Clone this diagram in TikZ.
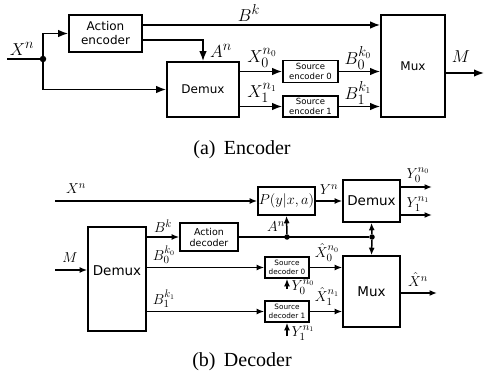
\documentclass[tikz,border=0pt]{standalone}
\usepackage{fontspec}
\setsansfont{DejaVu Sans}
\newfontfamily\capfont{Liberation Serif}
\usetikzlibrary{arrows.meta}
\begin{document}
\begin{tikzpicture}[x=1pt,y=-1pt,
  blk/.style={draw,line width=1.6pt,inner sep=0pt},
  wire/.style={line width=1.5pt},
  arrA/.style={wire,-{Latex[length=10pt,width=7.5pt]}},
  arrB/.style={wire,-{Latex[length=7.5pt,width=6pt]}},
  bigtxt/.style={font=\sffamily\fontsize{12}{14}\selectfont,align=center},
  smalltxt/.style={font=\sffamily\fontsize{8.5}{10}\selectfont,align=center},
  dbigtxt/.style={font=\sffamily\fontsize{13.5}{15}\selectfont,align=center},
  dmidtxt/.style={font=\sffamily\fontsize{9.5}{11}\selectfont,align=center},
  dsmalltxt/.style={font=\sffamily\fontsize{7.3}{8.5}\selectfont,align=center},
  mlab/.style={font=\fontsize{19}{19}\selectfont,inner sep=0pt},
  dlab/.style={font=\fontsize{15}{15}\selectfont,inner sep=0pt},
  jdot/.style={circle,fill,inner sep=0pt,minimum size=6.5pt},
  captxt/.style={font=\capfont\fontsize{20}{20}\selectfont}]
\useasboundingbox (0,0) rectangle (484,374);
%% ---------------- Encoder ----------------
\coordinate (xin) at (7,59);
\node[jdot] (edot) at (43,59) {};
\node[blk,bigtxt,minimum width=73pt,minimum height=37pt] (acte) at (105.5,33.5) {Action\\encoder};
\node[blk,bigtxt,minimum width=72pt,minimum height=55pt] (edmx) at (203,89.5) {Demux};
\node[blk,smalltxt,minimum width=55pt,minimum height=22pt] (se0) at (310.5,71.5) {Source\\encoder 0};
\node[blk,smalltxt,minimum width=55pt,minimum height=21pt] (se1) at (310.5,106.5) {Source\\encoder 1};
\node[blk,bigtxt,minimum width=64pt,minimum height=102pt] (emux) at (413,66) {Mux};
\coordinate (mout) at (484,73);

\draw[wire] (xin) -- (edot);
\draw[arrA] (edot) |- (acte.west);
\draw[arrA] (edot) |- (edmx.west);
\draw[arrA] (acte.east |- 0,25) -- (emux.west |- 0,25);
\draw[arrA] (acte.east |- 0,40) -| (edmx.north);
\draw[arrA] (edmx.east |- se0) -- (se0.west);
\draw[arrA] (edmx.east |- se1) -- (se1.west);
\draw[arrA] (se0.east) -- (emux.west |- se0);
\draw[arrA] (se1.east) -- (emux.west |- se1);
\draw[arrA] (emux.east |- mout) -- (mout);

\node[mlab] (lxn) at (22,49) {$X^n$};
\node[mlab] (lbk) at (249,13) {$B^k$};
\node[mlab] (lan) at (221,51) {$A^n$};
\node[mlab] (lx0) at (262,58) {$X_0^{n_0}$};
\node[mlab] (lx1) at (262,93) {$X_1^{n_1}$};
\node[mlab] (lb0) at (358,58) {$B_0^{k_0}$};
\node[mlab] (lb1) at (358,93) {$B_1^{k_1}$};
\node[mlab] (lm) at (461,57) {$M$};
\node[captxt] (capa) at (242,150) {(a)\, Encoder};

%% ---------------- Decoder ----------------
\coordinate (dxin) at (55,201);
\coordinate (dmin) at (55,270);
\node[blk,dlab,minimum width=57pt,minimum height=28pt] (pch) at (286.5,201) {$P(y|x,a)$};
\node[blk,dbigtxt,minimum width=57pt,minimum height=42pt] (ddmx) at (371.5,201) {Demux};
\node[blk,minimum width=58pt,minimum height=104pt] (ldmx) at (117,279) {};
\node[dbigtxt] (ldmxt) at (117,271) {Demux};
\node[blk,dmidtxt,minimum width=58pt,minimum height=28pt] (actd) at (209,237) {Action\\decoder};
\node[blk,dsmalltxt,minimum width=44pt,minimum height=21pt] (sd0) at (287,267.5) {Source\\decoder 0};
\node[blk,dsmalltxt,minimum width=44pt,minimum height=21pt] (sd1) at (287,311.5) {Source\\decoder 1};
\node[blk,dbigtxt,minimum width=57pt,minimum height=71pt] (dmux) at (371.5,291.5) {Mux};
\node[jdot,minimum size=5.5pt] (ddot1) at (287,237) {};
\node[jdot,minimum size=5.5pt] (ddot2) at (372,237) {};
\coordinate (y0o) at (432,187);
\coordinate (y1o) at (432,215);
\coordinate (xho) at (437,293);
\coordinate (y0i) at (287,289);
\coordinate (y1i) at (287,336);

\draw[arrB] (dxin) -- (pch.west);
\draw[arrB] (pch.east) -- (ddmx.west);
\draw[arrB] (ddmx.east |- y0o) -- (y0o);
\draw[arrB] (ddmx.east |- y1o) -- (y1o);
\draw[arrB] (dmin) -- (ldmx.west |- dmin);
\draw[arrB] (ldmx.east |- actd) -- (actd.west);
\draw[wire] (actd.east) -- (ddot2);
\draw[arrB] (ddot1) -- (pch.south);
\draw[arrB] (ddot2) -- (ddmx.south);
\draw[arrB] (ddot2) -- (dmux.north);
\draw[arrB] (ldmx.east |- sd0) -- (sd0.west);
\draw[arrB] (ldmx.east |- sd1) -- (sd1.west);
\draw[arrB] (sd0.east) -- (dmux.west |- sd0);
\draw[arrB] (sd1.east) -- (dmux.west |- sd1);
\draw[arrB] (y0i) -- (sd0.south);
\draw[arrB] (y1i) -- (sd1.south);
\draw[arrB] (dmux.east |- xho) -- (xho);

\node[dlab] (dlxn) at (76,189) {$X^n$};
\node[dlab] (dlm) at (70,258) {$M$};
\node[dlab] (dlbk) at (163,226) {$B^k$};
\node[dlab] (dlb0) at (164,255) {$B_0^{k_0}$};
\node[dlab] (dlb1) at (164,299) {$B_1^{k_1}$};
\node[dlab] (dlan) at (276,227) {$A^n$};
\node[dlab] (dlyn) at (329,190) {$Y^n$};
\node[dlab] (dly0) at (418,175) {$Y_0^{n_0}$};
\node[dlab] (dly1) at (418,204) {$Y_1^{n_1}$};
\node[dlab] (dlx0) at (327,252.5) {$\hat{X}_0^{n_0}$};
\node[dlab] (dlx1) at (327,296.5) {$\hat{X}_1^{n_1}$};
\node[dlab] (dly0i) at (303,287) {$Y_0^{n_0}$};
\node[dlab] (dly1i) at (303,333) {$Y_1^{n_1}$};
\node[dlab] (dlxh) at (418,279.5) {$\hat{X}^n$};
\node[captxt] (capb) at (242,362) {(b)\, Decoder};
\end{tikzpicture}
\end{document}
